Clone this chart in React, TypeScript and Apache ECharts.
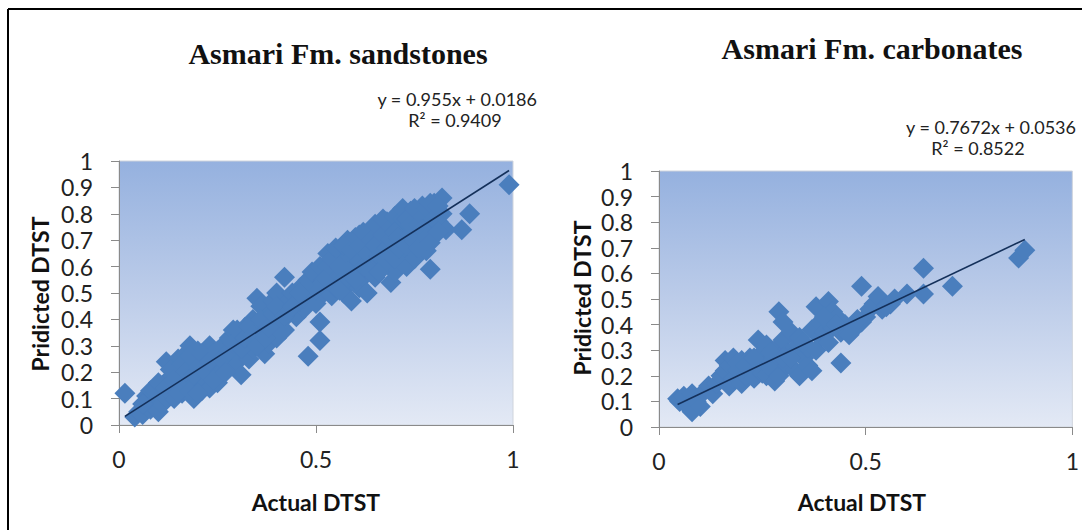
import React, { useEffect, useRef } from "react";
import * as echarts from "echarts";

// Asmari Fm. sandstones: [actual DTST, predicted DTST]
const sandstonePoints: [number, number][] = [
  [0.015, 0.12], [0.04, 0.03], [0.05, 0.05], [0.06, 0.04], [0.07, 0.08], [0.07, 0.11],
  [0.08, 0.06], [0.08, 0.13], [0.09, 0.09], [0.1, 0.05], [0.1, 0.12], [0.11, 0.08],
  [0.11, 0.15], [0.12, 0.1], [0.12, 0.24], [0.13, 0.13], [0.13, 0.18], [0.14, 0.1],
  [0.14, 0.22], [0.15, 0.15], [0.15, 0.25], [0.16, 0.12], [0.16, 0.19], [0.17, 0.27],
  [0.17, 0.16], [0.18, 0.3], [0.18, 0.22], [0.19, 0.1], [0.19, 0.14], [0.19, 0.25],
  [0.2, 0.18], [0.2, 0.28], [0.21, 0.22], [0.21, 0.13], [0.22, 0.26], [0.22, 0.17],
  [0.23, 0.3], [0.23, 0.14], [0.24, 0.2], [0.24, 0.27], [0.25, 0.16], [0.25, 0.23],
  [0.26, 0.29], [0.26, 0.2], [0.27, 0.25], [0.27, 0.31], [0.28, 0.22], [0.28, 0.33],
  [0.29, 0.27], [0.29, 0.36], [0.3, 0.3], [0.3, 0.24], [0.31, 0.19], [0.31, 0.34],
  [0.32, 0.37], [0.32, 0.28], [0.33, 0.32], [0.33, 0.25], [0.34, 0.4], [0.34, 0.29],
  [0.35, 0.48], [0.35, 0.35], [0.36, 0.32], [0.36, 0.45], [0.37, 0.38], [0.37, 0.27],
  [0.38, 0.42], [0.38, 0.31], [0.39, 0.47], [0.39, 0.36], [0.4, 0.33], [0.4, 0.5],
  [0.41, 0.39], [0.41, 0.44], [0.42, 0.56], [0.42, 0.36], [0.43, 0.47], [0.43, 0.42],
  [0.44, 0.5], [0.45, 0.45], [0.45, 0.41], [0.48, 0.26], [0.51, 0.32], [0.51, 0.39],
  [0.47, 0.44], [0.46, 0.52], [0.47, 0.48], [0.48, 0.55], [0.49, 0.5], [0.5, 0.57],
  [0.5, 0.46], [0.51, 0.53], [0.52, 0.5], [0.52, 0.6], [0.53, 0.55], [0.53, 0.65],
  [0.54, 0.49], [0.54, 0.58], [0.55, 0.62], [0.55, 0.52], [0.56, 0.66], [0.56, 0.56],
  [0.57, 0.6], [0.57, 0.5], [0.58, 0.7], [0.58, 0.63], [0.58, 0.53], [0.59, 0.47],
  [0.59, 0.57], [0.6, 0.67], [0.6, 0.6], [0.61, 0.72], [0.61, 0.52], [0.62, 0.64],
  [0.62, 0.56], [0.63, 0.7], [0.63, 0.5], [0.63, 0.6], [0.64, 0.74], [0.64, 0.66],
  [0.65, 0.56], [0.65, 0.62], [0.66, 0.75], [0.66, 0.69], [0.67, 0.6], [0.67, 0.65],
  [0.68, 0.72], [0.68, 0.77], [0.69, 0.54], [0.69, 0.63], [0.7, 0.68], [0.7, 0.58],
  [0.71, 0.76], [0.71, 0.79], [0.72, 0.64], [0.72, 0.7], [0.73, 0.6], [0.73, 0.74],
  [0.74, 0.81], [0.74, 0.67], [0.75, 0.77], [0.75, 0.63], [0.76, 0.72], [0.76, 0.8],
  [0.77, 0.69], [0.77, 0.83], [0.78, 0.75], [0.78, 0.66], [0.79, 0.59], [0.79, 0.79],
  [0.8, 0.72], [0.8, 0.84], [0.81, 0.77], [0.82, 0.86], [0.82, 0.8], [0.83, 0.74],
  [0.87, 0.74], [0.89, 0.8], [0.99, 0.91],
  [0.49, 0.58], [0.51, 0.6], [0.53, 0.6], [0.54, 0.63], [0.55, 0.67], [0.56, 0.6],
  [0.57, 0.68], [0.57, 0.55], [0.58, 0.58], [0.59, 0.66], [0.6, 0.71], [0.6, 0.55],
  [0.61, 0.62], [0.61, 0.68], [0.62, 0.73], [0.62, 0.6], [0.63, 0.65], [0.64, 0.7],
  [0.64, 0.58], [0.65, 0.76], [0.65, 0.68], [0.66, 0.64], [0.66, 0.58], [0.67, 0.72],
  [0.67, 0.78], [0.68, 0.67], [0.68, 0.62], [0.69, 0.75], [0.69, 0.7], [0.7, 0.79],
  [0.7, 0.73], [0.7, 0.63], [0.71, 0.67], [0.71, 0.71], [0.72, 0.78], [0.72, 0.82],
  [0.73, 0.68], [0.73, 0.78], [0.74, 0.72], [0.74, 0.76], [0.75, 0.82], [0.75, 0.7],
  [0.76, 0.76], [0.76, 0.67], [0.77, 0.79], [0.77, 0.74], [0.78, 0.82], [0.78, 0.71],
  [0.79, 0.84], [0.79, 0.69], [0.8, 0.78], [0.81, 0.83], [0.81, 0.73], [0.52, 0.55],
  [0.56, 0.51], [0.5, 0.51], [0.47, 0.53], [0.46, 0.47],
  [0.06, 0.08], [0.09, 0.13], [0.1, 0.16], [0.12, 0.14], [0.13, 0.21], [0.14, 0.17],
  [0.15, 0.12], [0.16, 0.23], [0.17, 0.2], [0.18, 0.13], [0.18, 0.26], [0.19, 0.19],
  [0.2, 0.22], [0.2, 0.12], [0.21, 0.27], [0.22, 0.2], [0.23, 0.24], [0.24, 0.17],
  [0.25, 0.28], [0.26, 0.25], [0.27, 0.2], [0.28, 0.28], [0.29, 0.31], [0.3, 0.36],
  [0.31, 0.29], [0.32, 0.33], [0.33, 0.37], [0.34, 0.34], [0.35, 0.3], [0.36, 0.4],
  [0.37, 0.33], [0.38, 0.37], [0.39, 0.42], [0.4, 0.45], [0.42, 0.41], [0.44, 0.45],
  [0.46, 0.5],
];

// Asmari Fm. carbonates: [actual DTST, predicted DTST]
const carbonatePoints: [number, number][] = [
  [0.045, 0.11], [0.05, 0.1], [0.06, 0.12], [0.07, 0.08], [0.08, 0.06], [0.08, 0.13],
  [0.09, 0.1], [0.1, 0.08], [0.11, 0.14], [0.12, 0.16], [0.13, 0.13], [0.14, 0.17],
  [0.15, 0.2], [0.16, 0.26], [0.16, 0.22], [0.17, 0.16], [0.17, 0.24], [0.18, 0.27],
  [0.18, 0.19], [0.19, 0.22], [0.2, 0.26], [0.2, 0.17], [0.21, 0.2], [0.22, 0.27],
  [0.22, 0.23], [0.23, 0.19], [0.24, 0.25], [0.24, 0.34], [0.25, 0.29], [0.25, 0.21],
  [0.26, 0.32], [0.26, 0.2], [0.27, 0.26], [0.27, 0.23], [0.28, 0.3], [0.28, 0.18],
  [0.29, 0.45], [0.29, 0.2], [0.29, 0.27], [0.3, 0.34], [0.3, 0.41], [0.31, 0.29],
  [0.31, 0.24], [0.32, 0.37], [0.33, 0.22], [0.33, 0.31], [0.34, 0.2], [0.34, 0.35],
  [0.35, 0.27], [0.36, 0.24], [0.36, 0.31], [0.37, 0.38], [0.37, 0.22], [0.38, 0.47],
  [0.38, 0.3], [0.39, 0.35], [0.39, 0.41], [0.4, 0.37], [0.41, 0.49], [0.41, 0.33],
  [0.42, 0.45], [0.42, 0.39], [0.43, 0.43], [0.44, 0.25], [0.44, 0.37], [0.45, 0.4],
  [0.46, 0.36], [0.47, 0.38], [0.49, 0.55], [0.49, 0.41], [0.5, 0.43], [0.52, 0.48],
  [0.53, 0.51], [0.54, 0.46], [0.56, 0.48], [0.6, 0.52], [0.64, 0.62], [0.64, 0.52],
  [0.71, 0.55], [0.87, 0.66], [0.885, 0.69],
  [0.19, 0.25], [0.21, 0.24], [0.23, 0.27], [0.27, 0.29], [0.3, 0.27], [0.32, 0.27],
  [0.35, 0.33], [0.4, 0.43], [0.43, 0.4], [0.48, 0.42], [0.51, 0.46], [0.55, 0.47],
  [0.57, 0.5],
];

// Linear trend lines: [slope, intercept, R²]
const sandstoneFit = [0.955, 0.0186, 0.9409];
const carbonateFit = [0.7672, 0.0536, 0.8522];

const chartTitles = ["Asmari Fm. sandstones", "Asmari Fm. carbonates"];
const xAxisTitle = "Actual DTST";
const yAxisTitle = "Pridicted DTST";

const SANS = "Lato, 'Open Sans', sans-serif";
const SERIF = "'Liberation Serif', 'DejaVu Serif', serif";
const MARKER = "#4a7ebd";
const TREND = "#14305a";
const AXIS_GRAY = "#8a8a8a";

function trendLine(points: [number, number][], fit: number[]): [number, number][] {
  const xs = points.map((p) => p[0]);
  const x0 = Math.min(...xs);
  const x1 = Math.max(...xs);
  return [
    [x0, fit[0] * x0 + fit[1]],
    [x1, fit[0] * x1 + fit[1]],
  ];
}

function fmtEq(fit: number[]) {
  return `y = ${fit[0]}x + ${fit[1]}`;
}

function buildOption() {
  const grids = [
    { left: 119, top: 161, width: 394, height: 264 },
    { left: 659, top: 171, width: 416, height: 256 },
  ];
  const plotBg = {
    type: "linear",
    x: 0,
    y: 0,
    x2: 0,
    y2: 1,
    colorStops: [
      { offset: 0, color: "#95b1df" },
      { offset: 0.5, color: "#bccce9" },
      { offset: 1, color: "#e3e9f5" },
    ],
  };

  const gridOpts = grids.map((g) => ({
    ...g,
    show: true,
    backgroundColor: plotBg,
    borderColor: "#cfd4dc",
    borderWidth: 1,
    containLabel: false,
  }));

  const xAxes = grids.map((_, i) => ({
    type: "value",
    gridIndex: i,
    min: 0,
    max: 1,
    interval: 0.5,
    axisLine: { show: true, onZero: false, lineStyle: { color: AXIS_GRAY, width: 1 } },
    axisTick: { show: true, inside: false, length: 8, lineStyle: { color: AXIS_GRAY } },
    splitLine: { show: false },
    axisLabel: {
      fontFamily: SANS,
      fontSize: 23,
      color: "#222",
      margin: 22,
      showMaxLabel: true,
      formatter: (v: number) => String(Math.round(v * 10) / 10),
    },
  }));

  const yAxes = grids.map((_, i) => ({
    type: "value",
    gridIndex: i,
    min: 0,
    max: 1,
    interval: 0.1,
    axisLine: { show: true, onZero: false, lineStyle: { color: AXIS_GRAY, width: 1 } },
    axisTick: { show: true, inside: false, length: 8, lineStyle: { color: AXIS_GRAY } },
    splitLine: { show: false },
    axisLabel: {
      fontFamily: SANS,
      fontSize: 23,
      color: "#222",
      margin: 26,
      formatter: (v: number) => String(Math.round(v * 10) / 10),
    },
  }));

  const datasets = [
    { points: sandstonePoints, fit: sandstoneFit },
    { points: carbonatePoints, fit: carbonateFit },
  ];

  const series: any[] = [];
  datasets.forEach((d, i) => {
    series.push({
      type: "scatter",
      xAxisIndex: i,
      yAxisIndex: i,
      symbol: "diamond",
      symbolSize: 21,
      itemStyle: { color: MARKER, opacity: 1 },
      data: d.points,
      z: 2,
    });
    series.push({
      type: "line",
      xAxisIndex: i,
      yAxisIndex: i,
      data: trendLine(d.points, d.fit),
      symbol: "none",
      lineStyle: { color: TREND, width: 1.6 },
      z: 3,
    });
  });

  const text = (x: number, y: number, str: string, font: any, align = "center", rotation = 0) => ({
    type: "text",
    x,
    y,
    rotation,
    style: {
      text: str,
      fill: "#111",
      align,
      verticalAlign: "middle",
      ...font,
    },
  });

  const titleFont = { fontFamily: SERIF, fontSize: 30, fontWeight: "bold" };
  const axisFont = { fontFamily: SANS, fontSize: 23, fontWeight: "bold" };
  const eqFont = { fontFamily: SANS, fontSize: 18, fill: "#222" };

  const graphic = [
    // frame
    { type: "line", shape: { x1: 8, y1: 9, x2: 1082, y2: 9 }, style: { stroke: "#000", lineWidth: 2 } },
    { type: "line", shape: { x1: 8, y1: 9, x2: 8, y2: 530 }, style: { stroke: "#000", lineWidth: 2 } },
    // titles
    text(338, 53, chartTitles[0], titleFont),
    text(872, 48, chartTitles[1], titleFont),
    // trend equations
    text(537, 99, fmtEq(sandstoneFit), eqFont, "right"),
    text(455, 120, `R² = ${sandstoneFit[2]}`, eqFont),
    text(1076, 127, fmtEq(carbonateFit), eqFont, "right"),
    text(978, 148, `R² = ${carbonateFit[2]}`, eqFont),
    // axis titles
    text(316, 502, xAxisTitle, axisFont),
    text(862, 502, xAxisTitle, axisFont),
    text(40, 294, yAxisTitle, axisFont, "center", Math.PI / 2),
    text(582, 298, yAxisTitle, axisFont, "center", Math.PI / 2),
  ];

  return {
    animation: false,
    backgroundColor: "#ffffff",
    grid: gridOpts,
    xAxis: xAxes,
    yAxis: yAxes,
    series,
    graphic,
  };
}

export default function App() {
  const ref = useRef<HTMLDivElement>(null);
  useEffect(() => {
    if (!ref.current) return;
    const chart = echarts.init(ref.current, null, { renderer: "svg" });
    chart.setOption(buildOption() as any);
    return () => chart.dispose();
  }, []);
  return (
    <div
      ref={ref}
      style={{ position: "absolute", left: 0, top: 0, width: 1082, height: 530, background: "#fff" }}
    />
  );
}
